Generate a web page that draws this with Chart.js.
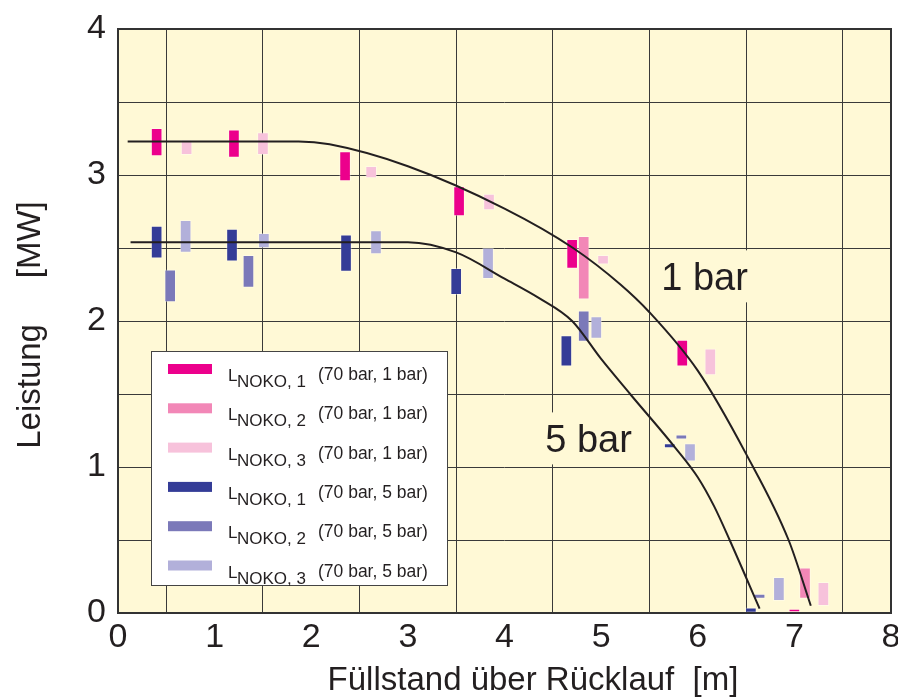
<!DOCTYPE html>
<html>
<head>
<meta charset="utf-8">
<script src="https://cdn.jsdelivr.net/npm/chart.js@4.4.1/dist/chart.umd.min.js"></script>
<style>
  html, body { margin: 0; padding: 0; background: #ffffff; }
  #wrap { width: 898px; height: 698px; position: relative; }
</style>
</head>
<body>
<div id="wrap"><canvas id="chart"></canvas></div>
<script>
// Measured points: x = level [m], lo/hi = power range [MW]
const noko1Bar1X  = [0.40, 1.20, 2.35, 3.53, 4.70, 5.84, 7.00];
const noko1Bar1Lo = [3.13, 3.12, 2.96, 2.72, 2.36, 1.69, 0.007];
const noko1Bar1Hi = [3.32, 3.31, 3.16, 2.92, 2.56, 1.87, 0.027];

const noko2Bar1X  = [4.82, 7.11];
const noko2Bar1Lo = [2.15, 0.10];
const noko2Bar1Hi = [2.58, 0.31];

const noko3Bar1X  = [0.71, 1.50, 2.62, 3.84, 5.02, 6.13, 7.30];
const noko3Bar1Lo = [3.14, 3.14, 2.98, 2.76, 2.39, 1.63, 0.05];
const noko3Bar1Hi = [3.24, 3.29, 3.06, 2.87, 2.45, 1.81, 0.21];

const noko1Bar5X  = [0.40, 1.18, 2.36, 3.50, 4.64, 5.71, 6.55];
const noko1Bar5Lo = [2.43, 2.41, 2.34, 2.18, 1.69, 1.13, 0.00];
const noko1Bar5Hi = [2.65, 2.63, 2.59, 2.36, 1.90, 1.16, 0.035];

const noko2Bar5X  = [0.54, 1.35, 4.82, 5.83, 6.64];
const noko2Bar5Lo = [2.13, 2.23, 1.86, 1.19, 0.10];
const noko2Bar5Hi = [2.35, 2.45, 2.07, 1.22, 0.13];

const noko3Bar5X  = [0.70, 1.51, 2.67, 3.83, 4.95, 5.92, 6.84];
const noko3Bar5Lo = [2.47, 2.50, 2.46, 2.29, 1.88, 1.04, 0.085];
const noko3Bar5Hi = [2.69, 2.60, 2.62, 2.50, 2.03, 1.16, 0.245];

// Calculated curves
const curve1BarX = [0.10, 1.87, 2.19, 3.00, 4.00, 4.71, 5.20, 5.50, 6.00, 6.50, 6.94, 7.17];
const curve1BarY = [3.23, 3.23, 3.21, 3.06, 2.77, 2.50, 2.25, 2.06, 1.66, 1.09, 0.50, 0.05];
const curve5BarX = [0.13, 3.00, 3.50, 4.00, 4.35, 4.70, 5.00, 5.30, 5.77, 6.00, 6.17, 6.33, 6.64];
const curve5BarY = [2.54, 2.54, 2.47, 2.29, 2.16, 2.00, 1.74, 1.50, 1.13, 0.93, 0.73, 0.50, 0.03];

const legendSub = ['NOKO, 1', 'NOKO, 2', 'NOKO, 3', 'NOKO, 1', 'NOKO, 2', 'NOKO, 3'];
const legendNote = ['(70 bar, 1 bar)', '(70 bar, 1 bar)', '(70 bar, 1 bar)',
                    '(70 bar, 5 bar)', '(70 bar, 5 bar)', '(70 bar, 5 bar)'];
const seriesColors = ['#EC008C', '#F287B7', '#F7C2DB', '#343C97', '#7B79B9', '#B2B0DA'];

const xTitle = 'Füllstand über Rücklauf  [m]';
const yTitle = 'Leistung     [MW]';

const plotBg = '#FFF9D6';
const ink = '#231F20';
const FONT = '"Liberation Sans", Arial, Helvetica, sans-serif';

function ranges(xs, lo, hi) {
    return xs.map((x, i) => ({ x: x, y: [lo[i], hi[i]] }));
}
function points(xs, ys) {
    return xs.map((x, i) => ({ x: x, y: ys[i] }));
}

const barSeries = [
    ranges(noko1Bar1X, noko1Bar1Lo, noko1Bar1Hi),
    ranges(noko2Bar1X, noko2Bar1Lo, noko2Bar1Hi),
    ranges(noko3Bar1X, noko3Bar1Lo, noko3Bar1Hi),
    ranges(noko1Bar5X, noko1Bar5Lo, noko1Bar5Hi),
    ranges(noko2Bar5X, noko2Bar5Lo, noko2Bar5Hi),
    ranges(noko3Bar5X, noko3Bar5Lo, noko3Bar5Hi),
];

const datasets = barSeries.map((d, i) => ({
    type: 'bar',
    label: 'L' + legendSub[i] + ' ' + legendNote[i],
    data: d,
    backgroundColor: seriesColors[i],
    borderColor: 'rgba(255,255,255,0.35)',
    borderWidth: 1,
    borderSkipped: false,
    barThickness: 11,
    grouped: false,
    order: 2,
}));

[[curve1BarX, curve1BarY, '1 bar'], [curve5BarX, curve5BarY, '5 bar']].forEach(c => {
    datasets.push({
        type: 'line',
        label: c[2],
        data: points(c[0], c[1]),
        borderColor: ink,
        borderWidth: 2,
        pointRadius: 0,
        cubicInterpolationMode: 'monotone',
        fill: false,
        order: 0,
    });
});

// background, frame, annotations, legend, axis titles
const decor = {
    id: 'decor',
    beforeDraw(chart) {
        const a = chart.chartArea, ctx = chart.ctx;
        ctx.save();
        ctx.fillStyle = plotBg;
        ctx.fillRect(a.left, a.top, a.right - a.left, a.bottom - a.top);
        ctx.restore();
    },
    afterDraw(chart) {
        const a = chart.chartArea, ctx = chart.ctx;
        const xs = chart.scales.x, ys = chart.scales.y;
        ctx.save();

        // frame
        ctx.strokeStyle = '#333333';
        ctx.lineWidth = 2;
        ctx.strokeRect(a.left, a.top, a.right - a.left, a.bottom - a.top);

        // curve labels
        ctx.font = '38px ' + FONT;
        ctx.textBaseline = 'alphabetic';
        ctx.textAlign = 'center';
        [['1 bar', 6.07, 2.21], ['5 bar', 4.87, 1.10]].forEach(t => {
            const px = xs.getPixelForValue(t[1]), py = ys.getPixelForValue(t[2]);
            const w = ctx.measureText(t[0]).width;
            ctx.fillStyle = plotBg;
            ctx.fillRect(px - w / 2 - 4, py - 40, w + 8, 52);
            ctx.fillStyle = ink;
            ctx.fillText(t[0], px, py);
        });

        // legend
        const lx = 151, ly = 351, lw = 296, lh = 234;
        ctx.fillStyle = '#ffffff';
        ctx.fillRect(lx, ly, lw, lh);
        ctx.strokeStyle = '#444444';
        ctx.lineWidth = 1;
        ctx.strokeRect(lx + 0.5, ly + 0.5, lw, lh);
        ctx.textAlign = 'left';
        for (let i = 0; i < seriesColors.length; i++) {
            const cy = 369 + i * 39.3;
            ctx.fillStyle = seriesColors[i];
            ctx.fillRect(168, cy - 5, 44, 10);
            ctx.fillStyle = ink;
            ctx.font = '17px ' + FONT;
            ctx.fillText('L', 228, cy + 12);
            ctx.fillText(legendSub[i], 237, cy + 18);
            ctx.font = '17.5px ' + FONT;
            ctx.fillText(legendNote[i], 318, cy + 11);
        }

        // axis titles
        ctx.fillStyle = ink;
        ctx.font = '33px ' + FONT;
        ctx.textAlign = 'center';
        ctx.fillText(xTitle, 533, 690);
        ctx.translate(40, 325);
        ctx.rotate(-Math.PI / 2);
        ctx.fillText(yTitle, 0, 0);
        ctx.restore();
    }
};

const chart = new Chart(document.getElementById('chart'), {
    data: { datasets: datasets },
    plugins: [decor],
    options: {
        responsive: true,
        maintainAspectRatio: false,
        animation: false,
        layout: { padding: { top: 29, right: 7, left: 0, bottom: 0 } },
        plugins: {
            legend: { display: false },
            tooltip: { enabled: false },
        },
        scales: {
            x: {
                type: 'linear',
                min: 0,
                max: 8,
                offset: false,
                ticks: { stepSize: 1, color: ink, font: { family: FONT, size: 34 }, padding: 4, maxRotation: 0 },
                grid: { color: '#3a3a3a', lineWidth: 1, drawTicks: false },
                border: { display: false },
                afterFit(scale) {
                    scale.height = 85;
                    scale.paddingLeft = 0;
                    scale.paddingRight = 0;
                },
            },
            y: {
                type: 'linear',
                min: 0,
                max: 4,
                ticks: {
                    stepSize: 0.5,
                    color: ink,
                    font: { family: FONT, size: 34 },
                    padding: 12,
                    callback: v => Number.isInteger(v) ? String(v) : '',
                },
                grid: { color: '#3a3a3a', lineWidth: 1, drawTicks: false },
                border: { display: false },
                afterFit(scale) {
                    scale.width = 118;
                    scale.paddingTop = 0;
                    scale.paddingBottom = 0;
                },
            },
        },
    },
});
</script>
</body>
</html>
